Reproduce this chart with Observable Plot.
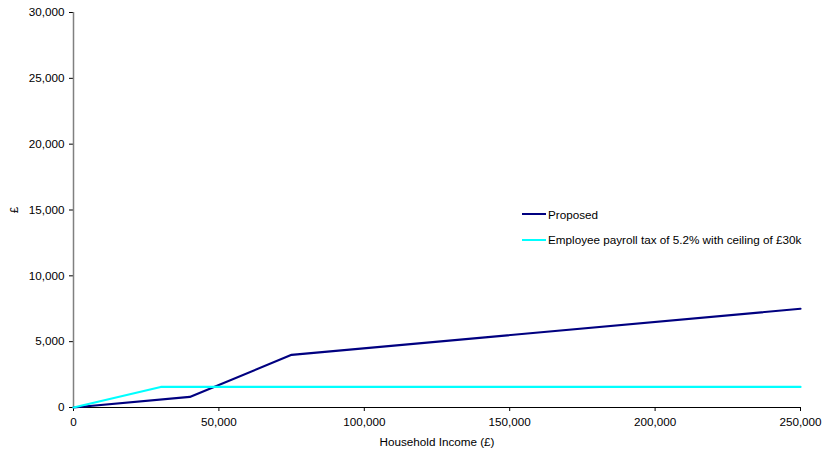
<!DOCTYPE html>
<html>
<head>
<meta charset="utf-8">
<script src="https://cdn.jsdelivr.net/npm/d3@7"></script>
<script src="https://cdn.jsdelivr.net/npm/@observablehq/plot@0.6"></script>
<style>
  body { margin: 0; background: #fff; }
  #wrap { position: relative; width: 823px; height: 457px; font-family: "Liberation Sans", Arial, sans-serif; }
  #legend { position: absolute; left: 522px; top: 205px; font-size: 11.7px; color: #000; }
  #legend .item { display: flex; align-items: center; height: 18px; margin-bottom: 7.5px; }
  #legend .swatch { width: 24px; height: 0; border-top: 2.5px solid; margin-right: 2px; }
  svg text { font-size: 11.7px; }
</style>
</head>
<body>
<div id="wrap"></div>
<script>
const seriesNames = ["Proposed", "Employee payroll tax of 5.2% with ceiling of £30k"];
const seriesColors = ["#000080", "#00FFFF"];
const proposedIncome = [0, 40000, 75000, 250000];
const proposedValue = [0, 800, 4000, 7500];
const payrollIncome = [0, 30000, 250000];
const payrollValue = [0, 1560, 1560];
const yTicks = [0, 5000, 10000, 15000, 20000, 25000, 30000];
const xTicks = [0, 50000, 100000, 150000, 200000, 250000];

const data = [
  ...proposedIncome.map((x, i) => ({series: seriesNames[0], x, y: proposedValue[i]})),
  ...payrollIncome.map((x, i) => ({series: seriesNames[1], x, y: payrollValue[i]}))
];
const fmt = d3.format(",");

const chart = Plot.plot({
  width: 823,
  height: 457,
  marginLeft: 73,
  marginRight: 23,
  marginTop: 12,
  marginBottom: 50,
  style: {fontFamily: "'Liberation Sans', Arial, sans-serif", fontSize: "11.7px", color: "#000", background: "#fff"},
  x: {domain: [0, 250000]},
  y: {domain: [0, 30000]},
  color: {domain: seriesNames, range: seriesColors},
  marks: [
    Plot.axisY({ticks: yTicks, tickFormat: fmt, tickSize: 4, tickPadding: 5, stroke: "#000",
      label: "£", labelAnchor: "center", labelArrow: "none", labelOffset: 64}),
    Plot.axisX({ticks: xTicks, tickFormat: fmt, tickSize: 4, tickPadding: 6, stroke: "#000",
      label: "Household Income (£)", labelAnchor: "center", labelArrow: "none", labelOffset: 38}),
    Plot.ruleX([0], {stroke: "#808080", strokeWidth: 1.5}),
    Plot.ruleY([0], {stroke: "#000", strokeWidth: 1}),
    Plot.line(data, {x: "x", y: "y", z: "series", stroke: "series", strokeWidth: 2.2})
  ]
});
const wrap = document.getElementById("wrap");
wrap.appendChild(chart);
const legend = document.createElement("div");
legend.id = "legend";
seriesNames.forEach((name, i) => {
  const item = document.createElement("div");
  item.className = "item";
  const sw = document.createElement("span");
  sw.className = "swatch";
  sw.style.borderColor = seriesColors[i];
  const t = document.createElement("span");
  t.textContent = name;
  item.appendChild(sw);
  item.appendChild(t);
  legend.appendChild(item);
});
wrap.appendChild(legend);
</script>
</body>
</html>
